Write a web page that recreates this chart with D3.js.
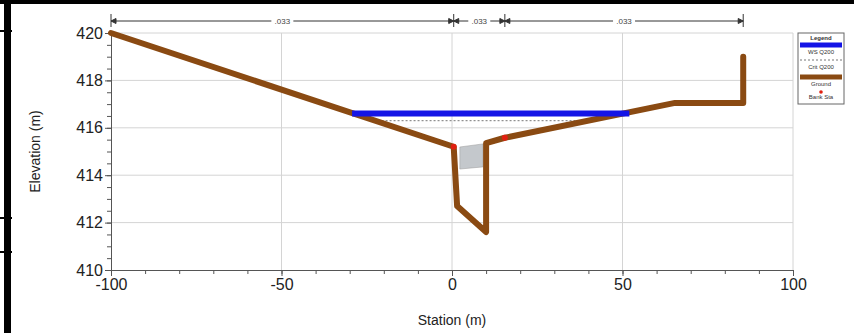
<!DOCTYPE html>
<html>
<head>
<meta charset="utf-8">
<script src="https://cdn.jsdelivr.net/npm/d3@7"></script>
<style>
  html, body { margin: 0; padding: 0; background: #fff; }
  svg { display: block; font-family: "Liberation Sans", Arial, sans-serif; }
</style>
</head>
<body>
<div class="xs-chart"></div>
<script>
// cross section data (station m, elevation m)
const groundSta  = [-100, 0.5, 1.5, 10, 10, 15.5, 65.4, 85.4, 85.4];
const groundElev = [420, 415.2, 412.7, 411.6, 415.35, 415.58, 417.05, 417.05, 419.0];
const wsSta  = [-29.3, 52];
const wsElev = [416.6, 416.6];
const critSta  = [-23, 41];
const critElev = [416.3, 416.3];
const bankSta  = [0.5, 15.5];
const bankElev = [415.2, 415.58];
const blockSta  = [2.3, 9.1, 9.1, 2.3];
const blockElev = [415.19, 415.32, 414.35, 414.26];
const nBreaks = [-100, 0.5, 15.5, 85.4];
const nValues = [".033", ".033", ".033"];
const xTicks = [-100, -50, 0, 50, 100];
const yTicks = [410, 412, 414, 416, 418, 420];
const legendItems = ["WS Q200", "Crit Q200", "Ground", "Bank Sta"];

const width = 854, height = 333;
const x = d3.scaleLinear().domain([-100, 100]).range([111, 793]);
const y = d3.scaleLinear().domain([410, 420]).range([270, 33]);

const svg = d3.select('div.xs-chart').append('svg')
  .attr('width', width)
  .attr('height', height);

// black frame bits from the screenshot
svg.append('rect').attr('x', 0).attr('y', 0).attr('width', width).attr('height', 4).attr('fill', '#000');
svg.append('rect').attr('x', 4).attr('y', 0).attr('width', 7).attr('height', height).attr('fill', '#000');
[31, 218, 252].forEach(yy => {
  svg.append('rect').attr('x', 0).attr('y', yy - 1).attr('width', 12).attr('height', 2).attr('fill', '#000');
});

// grid
const grid = svg.append('g').attr('stroke', '#d4d4d4').attr('stroke-width', 1);
grid.selectAll('line.gx').data(xTicks.slice(1)).enter().append('line')
  .attr('x1', d => x(d)).attr('x2', d => x(d)).attr('y1', y(420)).attr('y2', y(410));
grid.selectAll('line.gy').data(yTicks.slice(1)).enter().append('line')
  .attr('x1', x(-100)).attr('x2', x(100)).attr('y1', d => y(d)).attr('y2', d => y(d));

// axes
const xAxis = svg.append('g').attr('transform', `translate(0,${y(410)})`)
  .call(d3.axisBottom(x).tickValues(d3.range(-100, 101, 10)).tickSize(4).tickFormat(''));
xAxis.append('g').call(d3.axisBottom(x).tickValues(xTicks).tickSize(6).tickPadding(3).tickFormat(d => String(d)));
const yAxis = svg.append('g').attr('transform', `translate(${x(-100)},0)`)
  .call(d3.axisLeft(y).tickValues(d3.range(410, 420.01, 0.5)).tickSize(4).tickFormat(''));
yAxis.append('g').call(d3.axisLeft(y).tickValues(yTicks).tickSize(6).tickPadding(2).tickFormat(d => String(d)));
svg.selectAll('.domain').attr('stroke', '#555');
svg.selectAll('.tick line').attr('stroke', '#555');
svg.selectAll('.tick text').attr('font-size', 16).attr('fill', '#222')
  .attr('font-family', '"Liberation Sans", Arial, sans-serif');

svg.append('text').attr('x', x(0)).attr('y', 325).attr('text-anchor', 'middle')
  .attr('font-size', 14).attr('fill', '#222').text('Station (m)');
svg.append('text').attr('transform', `translate(40,${y(415)}) rotate(-90)`).attr('text-anchor', 'middle')
  .attr('font-size', 14).attr('fill', '#222').text('Elevation (m)');

// manning n dimension line
const dim = svg.append('g').attr('stroke', '#333').attr('stroke-width', 1);
const dimY = 21;
nValues.forEach((v, i) => {
  const a = x(nBreaks[i]), b = x(nBreaks[i + 1]);
  dim.append('line').attr('x1', a).attr('x2', b).attr('y1', dimY).attr('y2', dimY);
  dim.append('path').attr('d', `M${a},${dimY}l5,-2.5v5z`).attr('fill', '#333');
  dim.append('path').attr('d', `M${b},${dimY}l-5,-2.5v5z`).attr('fill', '#333');
  const m = (a + b) / 2;
  dim.append('rect').attr('x', m - 11).attr('y', dimY - 5).attr('width', 22).attr('height', 10)
    .attr('fill', '#fff').attr('stroke', 'none');
  svg.append('text').attr('x', m).attr('y', dimY + 3).attr('text-anchor', 'middle')
    .attr('font-size', 8).attr('fill', '#444').text(v);
});
dim.selectAll('line.end').data(nBreaks).enter().append('line')
  .attr('x1', d => x(d)).attr('x2', d => x(d)).attr('y1', 14).attr('y2', 27);

const line = d3.line().x(d => x(d[0])).y(d => y(d[1]));

// blocked area
svg.append('path')
  .datum(d3.zip(blockSta, blockElev))
  .attr('d', d => line(d) + 'Z')
  .attr('fill', '#c4c8cc').attr('stroke', '#999').attr('stroke-width', 0.5);

// crit ws
svg.append('path').datum(d3.zip(critSta, critElev)).attr('d', line)
  .attr('fill', 'none').attr('stroke', '#777').attr('stroke-width', 1).attr('stroke-dasharray', '2,2');

// ground
svg.append('path').datum(d3.zip(groundSta, groundElev)).attr('d', line)
  .attr('fill', 'none').attr('stroke', '#8a4a12').attr('stroke-width', 6)
  .attr('stroke-linejoin', 'round').attr('stroke-linecap', 'round');

// water surface
svg.append('path').datum(d3.zip(wsSta, wsElev)).attr('d', line)
  .attr('fill', 'none').attr('stroke', '#1414e6').attr('stroke-width', 6);

// bank stations
svg.selectAll('circle.bank').data(d3.zip(bankSta, bankElev)).enter().append('circle')
  .attr('cx', d => x(d[0])).attr('cy', d => y(d[1])).attr('r', 3).attr('fill', '#e02010');

// legend
const lg = svg.append('g').attr('transform', 'translate(798,33)');
lg.append('rect').attr('width', 46).attr('height', 71).attr('fill', '#fff').attr('stroke', '#666');
lg.append('text').attr('x', 23).attr('y', 7).attr('text-anchor', 'middle').attr('font-size', 6)
  .attr('font-weight', 'bold').attr('fill', '#333').text('Legend');
lg.append('line').attr('x1', 2).attr('x2', 44).attr('y1', 12).attr('y2', 12)
  .attr('stroke', '#1414e6').attr('stroke-width', 5);
lg.append('line').attr('x1', 2).attr('x2', 44).attr('y1', 27).attr('y2', 27)
  .attr('stroke', '#777').attr('stroke-width', 1).attr('stroke-dasharray', '2,2');
lg.append('line').attr('x1', 2).attr('x2', 44).attr('y1', 44).attr('y2', 44)
  .attr('stroke', '#8a4a12').attr('stroke-width', 5);
lg.append('circle').attr('cx', 23).attr('cy', 59).attr('r', 1.8).attr('fill', '#e02010');
const legY = [21, 36, 53, 66];
lg.selectAll('text.item').data(legendItems).enter().append('text')
  .attr('x', 23).attr('y', (d, i) => legY[i]).attr('text-anchor', 'middle')
  .attr('font-size', 6).attr('fill', '#333').text(d => d);
</script>
</body>
</html>
